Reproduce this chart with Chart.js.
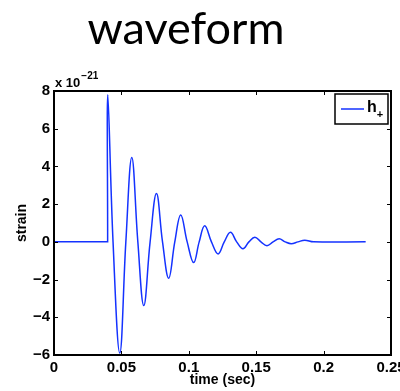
<!DOCTYPE html>
<html>
<head>
<meta charset="utf-8">
<script src="https://cdn.jsdelivr.net/npm/chart.js@4/dist/chart.umd.min.js"></script>
<style>
  html, body { margin: 0; padding: 0; background: #fff; }
  #wrap { width: 400px; height: 391px; }
</style>
</head>
<body>
<div id="wrap"><canvas id="chartWave" width="400" height="391"></canvas></div>
<script>
// ringdown strain, in units of 1e-21, read at peaks, troughs and zero crossings
// (the corner before the jump is listed twice so the spline keeps it sharp)
const timeSec = [
  0, 0.0398, 0.0398, 0.0399, 0.0438, 0.0488, 0.0533, 0.0577, 0.0622, 0.0666, 0.0713,
  0.0760, 0.0805, 0.0851, 0.0896, 0.0940, 0.0988, 0.1036, 0.1077, 0.1118, 0.1168,
  0.1217, 0.1263, 0.1309, 0.1355, 0.1402, 0.1446, 0.1490, 0.1535, 0.1580, 0.1625,
  0.1670, 0.1715, 0.1760, 0.1810, 0.1860, 0.1925, 0.2312
];
const strainE21 = [
  0, 0, 0, 7.8, 0, -5.9, 0, 4.47, 0, -3.38, 0,
  2.56, 0, -1.93, 0, 1.43, 0, -1.10, 0, 0.85, 0,
  -0.64, 0, 0.51, 0, -0.37, 0, 0.25, 0, -0.2, 0,
  0.16, 0, -0.1, 0, 0.09, 0, 0
];
const xTicks = [0, 0.05, 0.1, 0.15, 0.2, 0.25];
const yTicks = [-6, -4, -2, 0, 2, 4, 6, 8];

const titleText = 'waveform';
const seriesLabel = 'h';
const seriesSub = '+';
const lineColor = 'rgb(20, 50, 255)';
const axisFont = { family: 'Liberation Sans, Arial, sans-serif', size: 15, weight: 'bold' };

const points = timeSec.map((t, i) => ({ x: t, y: strainE21[i] }));

function minusSign(v) {
  return v < 0 ? '\u2212' + (-v) : String(v);
}

// box, inward ticks, exponent, legend and big title
const decorations = {
  id: 'decorations',
  afterDatasetsDraw(chart) {
    const { ctx, chartArea: a, scales } = chart;
    ctx.save();
    ctx.strokeStyle = '#000';
    ctx.lineWidth = 1;
    const tl = 4;
    scales.x.ticks.forEach(tk => {
      const px = Math.round(scales.x.getPixelForValue(tk.value)) + 0.5;
      ctx.beginPath();
      ctx.moveTo(px, a.bottom); ctx.lineTo(px, a.bottom - tl);
      ctx.moveTo(px, a.top); ctx.lineTo(px, a.top + tl);
      ctx.stroke();
    });
    scales.y.ticks.forEach(tk => {
      const py = Math.round(scales.y.getPixelForValue(tk.value)) + 0.5;
      ctx.beginPath();
      ctx.moveTo(a.left, py); ctx.lineTo(a.left + tl, py);
      ctx.moveTo(a.right, py); ctx.lineTo(a.right - tl, py);
      ctx.stroke();
    });
    ctx.lineWidth = 2;
    ctx.strokeRect(a.left, a.top, a.right - a.left, a.bottom - a.top);

    // axis multiplier
    ctx.fillStyle = '#000';
    ctx.textBaseline = 'alphabetic';
    ctx.textAlign = 'left';
    ctx.font = 'bold 13px Liberation Sans, Arial, sans-serif';
    ctx.fillText('x 10', a.left + 1, a.top - 4);
    const w = ctx.measureText('x 10').width;
    ctx.font = 'bold 10px Liberation Sans, Arial, sans-serif';
    ctx.fillText('\u221221', a.left + 2 + w, a.top - 12);

    // legend
    const lx = a.right - 56, ly = a.top + 3, lw = 53, lh = 30;
    ctx.fillStyle = '#fff';
    ctx.fillRect(lx, ly, lw, lh);
    ctx.lineWidth = 1.5;
    ctx.strokeStyle = '#000';
    ctx.strokeRect(lx, ly, lw, lh);
    ctx.strokeStyle = lineColor;
    ctx.lineWidth = 1.5;
    ctx.beginPath();
    ctx.moveTo(lx + 6, ly + 15); ctx.lineTo(lx + 29, ly + 15);
    ctx.stroke();
    ctx.fillStyle = '#000';
    ctx.font = 'bold 16px Liberation Sans, Arial, sans-serif';
    ctx.fillText(seriesLabel, lx + 32, ly + 18);
    const hw = ctx.measureText(seriesLabel).width;
    ctx.font = 'bold 11px Liberation Sans, Arial, sans-serif';
    ctx.fillText(seriesSub, lx + 32 + hw, ly + 24);

    // title
    ctx.font = '45px Lato, Open Sans, sans-serif';
    ctx.textAlign = 'center';
    ctx.fillText(titleText, 186, 44);
    ctx.restore();
  }
};

new Chart(document.getElementById('chartWave'), {
  type: 'line',
  data: {
    datasets: [{
      label: seriesLabel + seriesSub,
      data: points,
      borderColor: lineColor,
      borderWidth: 1.5,
      pointRadius: 0,
      fill: false,
      tension: 0.4
    }]
  },
  options: {
    responsive: false,
    animation: false,
    devicePixelRatio: 1,
    layout: { padding: { left: 0, top: 91, right: 9, bottom: 0 } },
    plugins: { legend: { display: false }, tooltip: { enabled: false } },
    scales: {
      x: {
        type: 'linear',
        min: 0,
        max: 0.25,
        afterBuildTicks: s => { s.ticks = xTicks.map(v => ({ value: v })); },
        afterFit: s => { s.height = 36; s.paddingLeft = 0; s.paddingRight = 0; },
        grid: { display: false, drawTicks: false },
        border: { display: false },
        ticks: {
          color: '#000',
          font: axisFont,
          padding: 4,
          maxRotation: 0,
          autoSkip: false,
          callback: v => String(+v.toFixed(2))
        },
        title: {
          display: true,
          text: 'time (sec)',
          color: '#000',
          font: { family: 'Liberation Sans, Arial, sans-serif', size: 14, weight: 'bold' },
          padding: { top: 0, bottom: 2 }
        }
      },
      y: {
        type: 'linear',
        min: -6,
        max: 8,
        afterBuildTicks: s => { s.ticks = yTicks.map(v => ({ value: v })); },
        afterFit: s => { s.width = 54; s.paddingTop = 0; s.paddingBottom = 0; },
        grid: { display: false, drawTicks: false },
        border: { display: false },
        ticks: {
          color: '#000',
          font: axisFont,
          padding: 4,
          autoSkip: false,
          callback: v => minusSign(v)
        },
        title: {
          display: true,
          text: 'strain',
          color: '#000',
          font: { family: 'Liberation Sans, Arial, sans-serif', size: 14, weight: 'bold' },
          padding: { top: 14, bottom: 0 }
        }
      }
    }
  },
  plugins: [decorations]
});
</script>
</body>
</html>
